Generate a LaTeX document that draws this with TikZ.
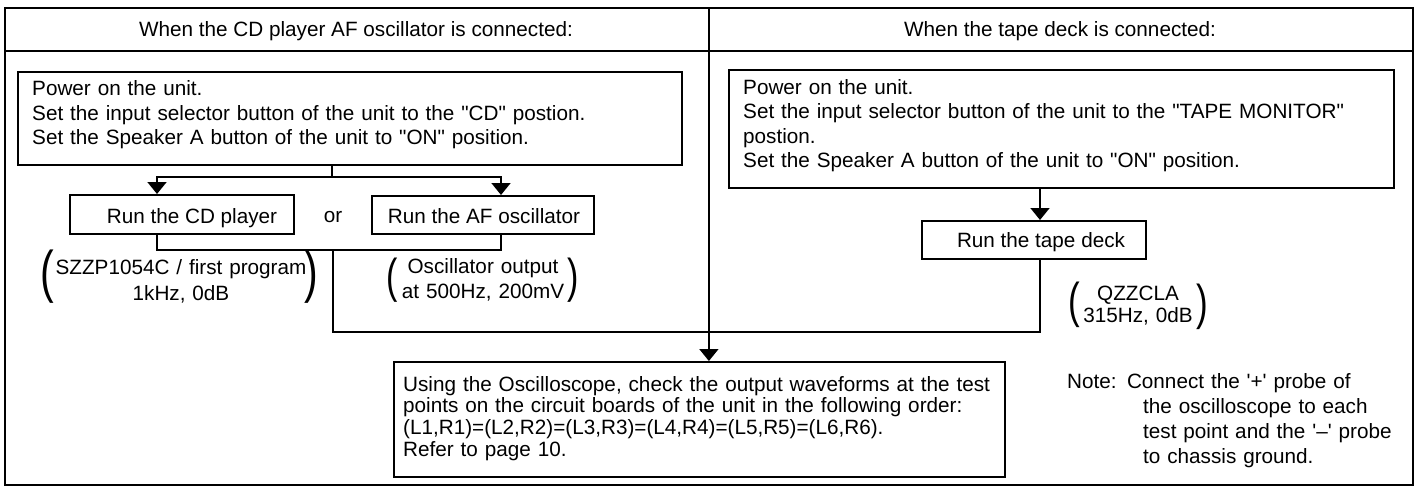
\documentclass[tikz,border=0pt]{standalone}
\usepackage{graphicx}
\usepackage{fontspec}
\setmainfont{Liberation Sans}[Ligatures=TeXOff]
\usetikzlibrary{arrows.meta}
\newcommand{\bigparen}[2]{\scalebox{1}[1.4]{\fontsize{#1}{#1}\selectfont #2}}
\begin{document}
\begin{tikzpicture}[x=1pt,y=-1pt,
  ln/.style={line width=1.8pt},
  box/.style={draw, line width=1.8pt, inner sep=0pt, anchor=north west},
  txt/.style={inner sep=0pt, font=\fontsize{20.7}{24.5}\selectfont},
  para/.style={inner sep=0pt, align=left, anchor=base west, font=\fontsize{20.7}{#1}\selectfont},
  cen/.style={inner sep=0pt, align=center, anchor=base, font=\fontsize{20.7}{#1}\selectfont},
  prn/.style={inner sep=0pt, anchor=base west},
  arr/.style={line width=1.8pt, -{Triangle[width=19pt,length=12pt]}}
]
\useasboundingbox (0,0) rectangle (1417,488);

% frame and header
\node[box, minimum width=1408pt, minimum height=477pt] (frame) at (4,7) {};
\draw[ln] ([yshift=-44pt]frame.north west) -- ([yshift=-44pt]frame.north east);
\node[txt, anchor=base] (hL) at (356,36) {When the CD player AF oscillator is connected:};
\node[txt, anchor=base] (hR) at (1060,36) {When the tape deck is connected:};

% left top box
\node[box, minimum width=664pt, minimum height=93pt] (bL) at (17,71) {};
\node[para=24.5, text width=640pt] (tL) at (32,95.5) {Power on the unit.\\Set the input selector button of the unit to the "CD" postion.\\Set the Speaker A button of the unit to "ON" position.};

% right top box
\node[box, minimum width=665pt, minimum height=118pt] (bR) at (728,69) {};
\node[para=24.5, text width=640pt] (tR) at (743,94) {Power on the unit.\\Set the input selector button of the unit to the "TAPE MONITOR"\\postion.\\Set the Speaker A button of the unit to "ON" position.};

% run boxes
\node[box, minimum width=224pt, minimum height=39pt] (bCD) at (69,194) {};
\node[txt, anchor=base] (tCD) at (192,223) {Run the CD player};
\node[txt, anchor=base] (or) at (333,222) {or};
\node[box, minimum width=222pt, minimum height=38pt] (bAF) at (371,195) {};
\node[txt, anchor=base] (tAF) at (484,223) {Run the AF oscillator};
\node[box, minimum width=224pt, minimum height=38pt] (bT) at (921,220) {};
\node[txt, anchor=base] (tT) at (1041,247) {Run the tape deck};

% bottom box
\node[box, minimum width=611pt, minimum height=115pt] (bB) at (393,361) {};
\node[para=21.7, text width=598pt] (tB) at (403,391) {Using the Oscilloscope, check the output waveforms at the test\\points on the circuit boards of the unit in the following order:\\(L1,R1)=(L2,R2)=(L3,R3)=(L4,R4)=(L5,R5)=(L6,R6).\\Refer to page 10.};

% parenthesised notes
\node[cen=26, text width=270pt] (g1) at (181,274) {SZZP1054C / first program\\1kHz, 0dB};
\node[prn] (g1l) at (40,291) {\bigparen{41}{(}};
\node[prn] (g1r) at (304,291) {\bigparen{41}{)}};
\node[cen=25, text width=170pt] (g2) at (483,273) {Oscillator output\\at 500Hz, 200mV};
\node[prn] (g2l) at (386,292) {\bigparen{34}{(}};
\node[prn] (g2r) at (567,292) {\bigparen{34}{)}};
\node[cen=22, text width=120pt] (g3) at (1138,300) {QZZCLA\\315Hz, 0dB};
\node[prn] (g3l) at (1068,317) {\bigparen{35}{(}};
\node[prn] (g3r) at (1196,319) {\bigparen{35}{)}};

% note
\node[para=25, text width=340pt] (note) at (1067,388) {Note: Connect the '+' probe of\\\hspace*{76pt}the oscilloscope to each\\\hspace*{76pt}test point and the '–' probe\\\hspace*{76pt}to chassis ground.};

% connectors
\coordinate (jL) at (332,177);
\coordinate (xCD) at (157,0);
\coordinate (xAF) at (501,0);
\coordinate (jB) at (333,250);
\coordinate (mid) at (708,332);
\coordinate (xT) at (1040,0);
\draw[ln] (jL |- bL.south) -- (jL);
\draw[arr] (jL) -| (xCD |- bCD.north);
\draw[arr] (jL) -| (xAF |- bAF.north);
\draw[ln] (xCD |- bCD.south) |- (jB) -| (xAF |- bAF.south);
\draw[ln] (jB) |- (mid);
\draw[arr] (xT |- bR.south) -- (xT |- bT.north);
\draw[ln] (xT |- bT.south) |- (mid);
\draw[arr] (frame.north) -- (frame.north |- bB.north);
\end{tikzpicture}
\end{document}
